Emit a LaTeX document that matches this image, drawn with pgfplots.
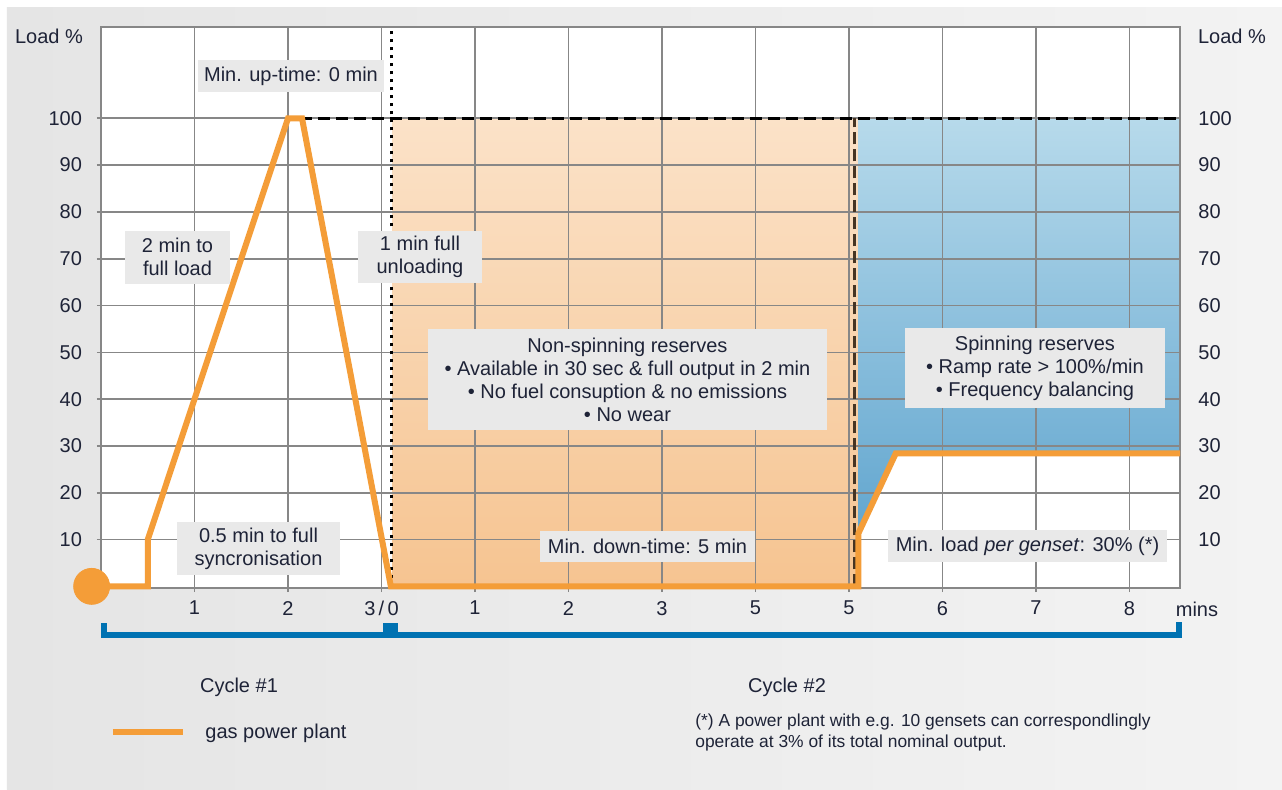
\documentclass[border=0pt]{standalone}
\usepackage{pgfplots}
\pgfplotsset{compat=1.18}
\usepackage{fontspec}
\setmainfont{Liberation Sans}
\definecolor{txt}{RGB}{30,35,55}
\definecolor{org}{RGB}{244,157,56}
\definecolor{orgT}{RGB}{251,226,200}
\definecolor{orgB}{RGB}{246,196,145}
\definecolor{bluT}{RGB}{183,218,235}
\definecolor{bluB}{RGB}{98,166,207}
\definecolor{gridc}{RGB}{135,135,135}
\definecolor{brk}{RGB}{0,114,178}
\definecolor{boxc}{RGB}{233,233,233}
\definecolor{bgL}{RGB}{229,229,229}
\definecolor{bgR}{RGB}{243,243,243}
\definecolor{dbrown}{RGB}{70,52,35}
\begin{document}
\fontsize{10pt}{11.5pt}\selectfont
\color{txt}
\begin{tikzpicture}
\begin{scope}[x=0.5pt,y=-0.5pt,shift={(-50.5pt,294pt)}]
\useasboundingbox (0,0) rectangle (1282,789);
\fill[white] (0,0) rectangle (1282,789);
\shade[left color=bgL, right color=bgR] (7,7) rectangle (1282,789);
\end{scope}

\begin{axis}[
  at={(0,0)}, anchor=south west, scale only axis,
  width=539.5pt, height=280.5pt,
  xmin=0, xmax=11.54, ymin=-0.35, ymax=119.5,
  axis on top,
  axis background/.style={fill=white},
  axis line style={gridc, line width=0.8pt},
  grid=major, grid style={gridc, line width=0.8pt},
  tick pos=left,
  xtick={1,2,...,11},
  xticklabels={1,2,3\,/\,0,1,2,3,5,5,6,7,8},
  ytick={10,20,...,100},
  tick align=outside, major tick length=2pt,
  tick style={gridc, line width=0.8pt},
  yticklabel style={xshift=-4pt, text=txt},
  xticklabel style={yshift=-1pt, text=txt},
  /pgf/number format/assume math mode=true,
]
\addplot[draw=none, top color=orgT, bottom color=orgB]
  coordinates {(3.12,0) (8.1,0) (8.1,100) (3.12,100)} -- cycle;
\addplot[draw=none, top color=bluT, bottom color=bluB]
  coordinates {(8.1,100) (11.54,100) (11.54,28.4) (8.5,28.4) (8.1,11.3)} -- cycle;
\end{axis}

\begin{axis}[
  at={(0,0)}, anchor=south west, scale only axis,
  width=539.5pt, height=280.5pt,
  xmin=0, xmax=11.54, ymin=-0.35, ymax=119.5,
  clip=false,
  hide x axis,
  axis y line*=right,
  y axis line style={draw=none},
  ytick={10,20,...,100}, major tick length=0pt,
  yticklabel style={xshift=5.7pt, text=txt},
  /pgf/number format/assume math mode=true,
]
% reference level dashed at 100
\addplot[black, line width=1.3pt, dash pattern=on 6pt off 3pt] coordinates {(2.13,100) (11.54,100)};
% dotted cycle boundary
\addplot[black, line width=1.5pt, dash pattern=on 1.5pt off 2.5pt] coordinates {(3.11,0) (3.11,119.5)};
% dashed end of down-time
\addplot[dbrown, line width=1.4pt, dash pattern=on 6pt off 2.5pt] coordinates {(8.06,0) (8.06,100)};
% gas power plant load
\addplot[org, line width=3pt] coordinates {
  (0,0) (0.5,0) (0.5,10) (2.0,100) (2.15,100) (3.1,0) (8.1,0) (8.1,11.3) (8.5,28.4) (11.54,28.4)};
\addplot[only marks, mark=*, mark size=9pt, org, mark options={draw=org, fill=org}] coordinates {(-0.1,0)};
\end{axis}

\begin{scope}[x=0.5pt,y=-0.5pt,shift={(-50.5pt,294pt)}]
% axis titles
\node[anchor=base] at (49,43) {Load \%};
\node[anchor=base] at (1232,43) {Load \%};
\node[anchor=base] at (1197,616) {mins};
% annotation boxes
\tikzset{bx/.style={fill=boxc, inner sep=0pt, align=center}}
\node[bx, minimum width=93pt, minimum height=16pt] at (291,76) {Min. up-time: 0 min};
\node[bx, minimum width=52.5pt, minimum height=26.5pt] at (177.5,257) {2 min to\\full load};
\node[bx, minimum width=62pt, minimum height=26pt] at (420,257) {1 min full\\unloading};
\node[bx, minimum width=81.5pt, minimum height=26.5pt] at (258.5,548.5) {0.5 min to full\\syncronisation};
\node[bx, minimum width=199.5pt, minimum height=50.5pt] at (627.5,379.5) {Non-spinning reserves\\\textbullet{} Available in 30 sec \& full output in 2 min\\\textbullet{} No fuel consuption \& no emissions\\\textbullet{} No wear};
\node[bx, minimum width=107.5pt, minimum height=15.5pt] at (647.5,546.5) {Min. down-time: 5 min};
\node[bx, minimum width=130pt, minimum height=40pt] at (1035,368) {Spinning reserves\\\textbullet{} Ramp rate > 100\%/min\\\textbullet{} Frequency balancing};
\node[bx, minimum width=139.5pt, minimum height=16pt] at (1027.5,546) {Min. load \textit{per genset}: 30\% (*)};
% cycle bracket
\fill[brk] (101,632) rectangle (1182,638);
\fill[brk] (101,623) rectangle (107,638);
\fill[brk] (1176,622) rectangle (1182,638);
\fill[brk] (383,623) rectangle (398,632);
\node[anchor=base] at (239,692) {Cycle \#1};
\node[anchor=base] at (787,692) {Cycle \#2};
% legend
\draw[org, line width=3pt] (113,732) -- (183,732);
\node[anchor=base west, inner sep=0pt] at (205,738) {gas power plant};
% footnote
\node[anchor=base west, inner sep=0pt, font=\fontsize{8.7pt}{10pt}\selectfont] at (695,726) {(*) A power plant with e.g. 10 gensets can correspondlingly};
\node[anchor=base west, inner sep=0pt, font=\fontsize{8.7pt}{10pt}\selectfont] at (695,747) {operate at 3\% of its total nominal output.};
\end{scope}
\end{tikzpicture}
\end{document}
